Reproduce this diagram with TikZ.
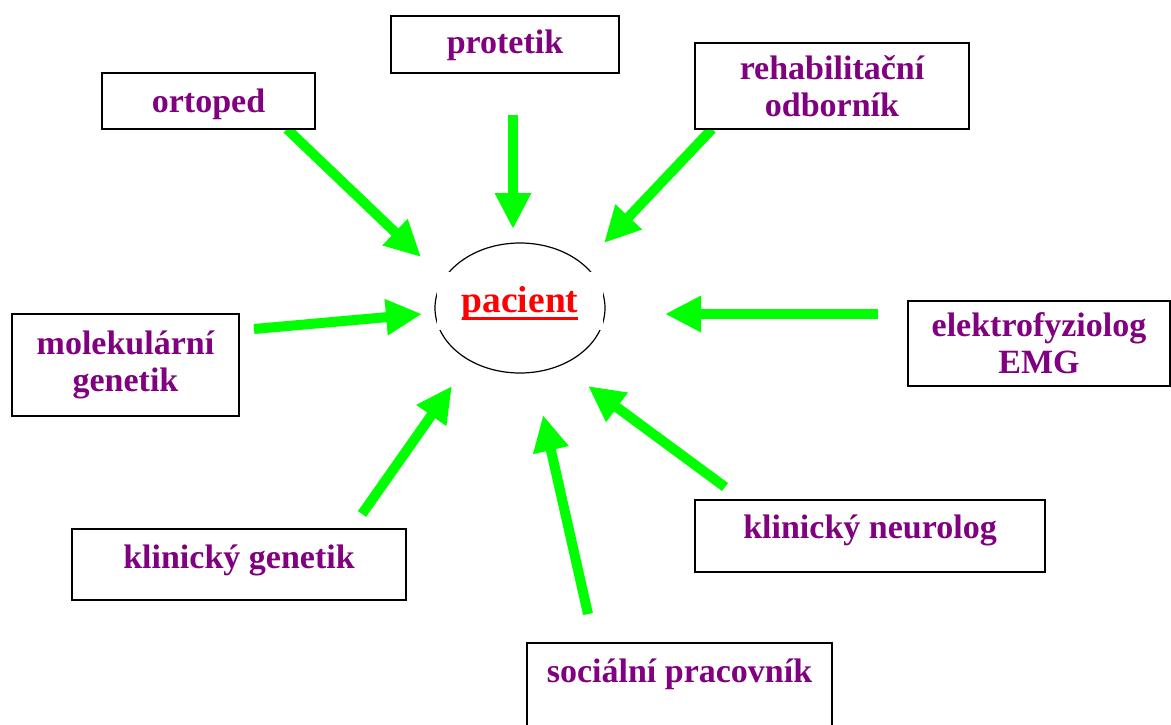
\documentclass[tikz,border=0pt]{standalone}
\usepackage{fontspec}
\setmainfont{Liberation Serif}
\usetikzlibrary{arrows.meta}
\usetikzlibrary{shapes.geometric}
\definecolor{rolepurple}{HTML}{800080}
\definecolor{feedgreen}{HTML}{00FF00}
\newcommand*\ulword[1]{\setbox0\hbox{#1}\rlap{\rule[-7.5pt]{\wd0}{3pt}}\box0}

\begin{document}
\begin{tikzpicture}[x=1pt,y=-1pt,
  role/.style={draw,line width=1.3pt,fill=white,text=rolepurple,inner sep=0pt,align=center,
    font=\bfseries\fontsize{34}{37}\selectfont},
  feed/.style={draw=feedgreen,line width=10pt,-{Triangle[length=36pt,width=34pt]}}]
\useasboundingbox (0,0) rectangle (1171,724);
%centre
\node [ellipse,draw,line width=1.2pt,minimum width=170pt,minimum height=130pt] (oval) at (520,308) {};
\node [anchor=base,fill=white,inner sep=0pt,minimum width=166pt,text height=40pt,text depth=18pt,
  text=red,font=\bfseries\fontsize{37.5}{40}\selectfont] (pacient) at (520,312) {\ulword{pacient}};
%arrow ends
\coordinate (ortoped-from) at (287,129);
\coordinate (ortoped-to) at (421,257);
\coordinate (protetik-from) at (513,115);
\coordinate (protetik-to) at (513,229);
\coordinate (rehab-from) at (712,129);
\coordinate (rehab-to) at (604,243);
\coordinate (molgen-from) at (254,329);
\coordinate (molgen-to) at (422,314);
\coordinate (emg-from) at (878,314);
\coordinate (emg-to) at (665,314);
\coordinate (klingen-from) at (362,514);
\coordinate (klingen-to) at (452,386);
\coordinate (neuro-from) at (725,487);
\coordinate (neuro-to) at (588,386);
\coordinate (social-from) at (588,614);
\coordinate (social-to) at (543,415);
%arrows
\draw [feed] (ortoped-from) -- (ortoped-to);
\draw [feed] (protetik-from) -- (protetik-to);
\draw [feed] (rehab-from) -- (rehab-to);
\draw [feed] (molgen-from) -- (molgen-to);
\draw [feed] (emg-from) -- (emg-to);
\draw [feed] (klingen-from) -- (klingen-to);
\draw [feed] (neuro-from) -- (neuro-to);
\draw [feed] (social-from) -- (social-to);
%one line boxes
\node [role,anchor=base,minimum width=213pt,text height=39pt,text depth=17pt] (ortoped) at (208.5,112) {ortoped};
\node [role,anchor=base,minimum width=228pt,text height=37pt,text depth=20pt] (protetik) at (505,53) {protetik};
\node [role,anchor=base,minimum width=334pt,text height=39pt,text depth=32pt] (klingen) at (239,568) {klinický genetik};
\node [role,anchor=base,minimum width=350pt,text height=38pt,text depth=34pt] (neuro) at (870,538) {klinický neurolog};
\node [role,anchor=base,minimum width=305pt,text height=39pt,text depth=58pt] (social) at (679.5,682) {sociální pracovník};
%two line boxes
\node [role,minimum width=274pt,minimum height=86pt] (rehab) at (832,86) {rehabilitační\\odborník};
\node [role,minimum width=227pt,minimum height=102pt] (molgen) at (125.5,365) {molekulární\\genetik};
\node [role,minimum width=262pt,minimum height=85pt] (emg) at (1039,343.5) {elektrofyziolog\\EMG};
\end{tikzpicture}
\end{document}
